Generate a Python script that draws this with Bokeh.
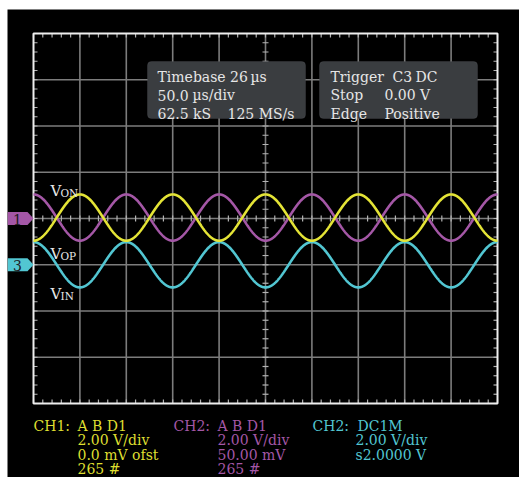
import numpy as np
from bokeh.plotting import figure
from bokeh.models import Range1d, Label, BoxAnnotation, PolyAnnotation
from bokeh.embed import file_html
from bokeh.resources import INLINE

TIME_PER_DIV_US = 50.0
VOLT_PER_DIV = 2.0
N_XDIV = 10
N_YDIV = 8
FREQ_KHZ = 10.0                       # period = 2 divisions = 100 us

trace_names = ["V_IN", "V_OP", "V_ON"]
trace_colors = ["#52c6d2", "#a457a6", "#e4e436"]
trace_amp_v = [0.98, 1.0, 1.0]
trace_offset_v = [-2.0, 0.04, 0.04]
trace_phase_deg = [0.0, 0.0, 180.0]

marker_texts = ["1", "3"]
marker_levels_v = [0.0, -2.0]
marker_colors = ["#a457a6", "#52c6d2"]

tb_texts = [["Timebase 26", "\u00b5s"], ["50.0", "\u00b5s/div"], ["62.5 kS", "125 MS/s"]]
trig_texts = [["Trigger", "C3", "DC"], ["Stop", "0.00 V"], ["Edge", "Positive"]]

ch_headers = [["CH1:", "A B D1"], ["CH2:", "A B D1"], ["CH2:", "DC1M"]]
ch_lines = [["2.00 V/div", "0.0 mV ofst", "265 #"],
            ["2.00 V/div", "50.00 mV", "265 #"],
            ["2.00 V/div", "s2.0000 V"]]
ch_colors = ["#dede30", "#a457a6", "#52c6d2"]

wave_labels = [("V", "ON"), ("V", "OP"), ("V", "IN")]

# ---------------- layout (page pixels) ----------------
W, H = 519, 477
BL, BT = 7, 9                 # black screen starts here
FX0, FY0, FW, FH = 33, 33, 464, 370
T_SPAN = TIME_PER_DIV_US * N_XDIV
V_SPAN = VOLT_PER_DIV * N_YDIV
ux = T_SPAN / FW
uy = V_SPAN / FH
PW, PH = W - BL, H - BT
x_start = -(FX0 - BL) * ux
x_end = x_start + PW * ux
y_end = V_SPAN / 2 + (FY0 - BT) * uy
y_start = y_end - PH * uy


def X(px):
    return x_start + (px - BL) * ux


def Y(py):
    return y_end - (py - BT) * uy


p = figure(width=W, height=H, x_range=Range1d(x_start, x_end), y_range=Range1d(y_start, y_end),
           x_axis_type=None, y_axis_type=None, toolbar_location=None, output_backend="svg",
           min_border_left=BL, min_border_top=BT, min_border_right=0, min_border_bottom=0,
           background_fill_color="black", border_fill_color="white",
           outline_line_color=None)

vtop, vbot = V_SPAN / 2, -V_SPAN / 2
# grid
gx = np.arange(1, N_XDIV) * TIME_PER_DIV_US
gy = (np.arange(1, N_YDIV) - N_YDIV / 2) * VOLT_PER_DIV
p.segment(x0=gx, y0=vbot, x1=gx, y1=vtop, line_color="#7c7c7c", line_width=1.6)
p.segment(x0=0, y0=gy, x1=T_SPAN, y1=gy, line_color="#7c7c7c", line_width=1.6)

# minor ticks
tm = np.arange(0, N_XDIV * 5 + 1) * TIME_PER_DIV_US / 5
vm = (np.arange(0, N_YDIV * 5 + 1) / 5 - N_YDIV / 2) * VOLT_PER_DIV
tc = "#b4b4b4"
L = 4
p.segment(x0=tm, y0=vtop, x1=tm, y1=vtop - L * uy, line_color=tc, line_width=1.2)
p.segment(x0=tm, y0=vbot, x1=tm, y1=vbot + L * uy, line_color=tc, line_width=1.2)
p.segment(x0=0, y0=vm, x1=L * ux, y1=vm, line_color=tc, line_width=1.2)
p.segment(x0=T_SPAN, y0=vm, x1=T_SPAN - L * ux, y1=vm, line_color=tc, line_width=1.2)
p.segment(x0=tm, y0=-3 * uy, x1=tm, y1=3 * uy, line_color=tc, line_width=1.2)
p.segment(x0=T_SPAN / 2 - 3 * ux, y0=vm, x1=T_SPAN / 2 + 3 * ux, y1=vm, line_color=tc, line_width=1.2)

# frame
p.quad(left=0, right=T_SPAN, bottom=vbot, top=vtop, fill_color=None, line_color="#eeeeee", line_width=2)

# traces
t = np.linspace(0, T_SPAN, 2001)
for name, col, a, off, ph in zip(trace_names, trace_colors, trace_amp_v, trace_offset_v, trace_phase_deg):
    y = off + a * np.cos(2 * np.pi * FREQ_KHZ / 1000.0 * t + np.deg2rad(ph))
    p.line(t, y, line_color=col, line_width=2.6)

FONT = "DejaVu Serif"


def lab(text, px, py, color, size="14px", align="left", baseline="alphabetic"):
    p.add_layout(Label(x=X(px), y=Y(py), text=text, text_font=FONT, text_font_size=size,
                       text_color=color, text_align=align, text_baseline=baseline))


# wave labels
wl_pos = [(50, 190, 192.5), (50, 253, 255.5), (50, 293, 295.5)]
for (v, sub), (px, by, sy) in zip(wave_labels, wl_pos):
    lab(v, px, by, "#e8e8e8", size="15px")
    lab(sub, px + 10, sy, "#e8e8e8", size="10.5px")

# channel markers
for txt, lv, col in zip(marker_texts, marker_levels_v, marker_colors):
    hh = 6.5 * uy
    xs = [X(7), X(27), X(33), X(27), X(7)]
    ys = [lv + hh, lv + hh, lv, lv - hh, lv - hh]
    p.add_layout(PolyAnnotation(xs=xs, ys=ys, fill_color=col, fill_alpha=1, line_color=None))
    p.add_layout(Label(x=X(17), y=lv - 0.5 * uy, text=txt, text_font=FONT, text_font_size="14px",
                       text_color="#1e1a22", text_align="center", text_baseline="middle"))

# info boxes
for lft, rgt in [(147, 305), (319, 477)]:
    p.add_layout(BoxAnnotation(left=X(lft), right=X(rgt), top=Y(61), bottom=Y(118),
                               fill_color="#3a3d40", fill_alpha=1, line_color="#505356",
                               line_width=1, border_radius=4))

box_base = [76, 94.5, 113]
tb_x = [[157, 250], [157, 192], [157, 227]]
for row, xs_, by in zip(tb_texts, tb_x, box_base):
    for s, px in zip(row, xs_):
        lab(s, px, by, "#e6e6e6")
trig_x = [[330, 392, 415], [330, 384], [330, 384]]
for row, xs_, by in zip(trig_texts, trig_x, box_base):
    for s, px in zip(row, xs_):
        lab(s, px, by, "#e6e6e6")

# channel readouts
hdr_x = [(33, 77), (173, 217), (312, 357)]
val_x = [77, 217, 355]
line_base = [425, 439.5, 454, 468.5]
for hdr, lines, col, (hx, ax), vx in zip(ch_headers, ch_lines, ch_colors, hdr_x, val_x):
    lab(hdr[0], hx, line_base[0], col)
    lab(hdr[1], ax, line_base[0], col)
    for s, by in zip(lines, line_base[1:]):
        lab(s, vx, by, col)

open("out.html", "w").write(file_html(p, INLINE))
